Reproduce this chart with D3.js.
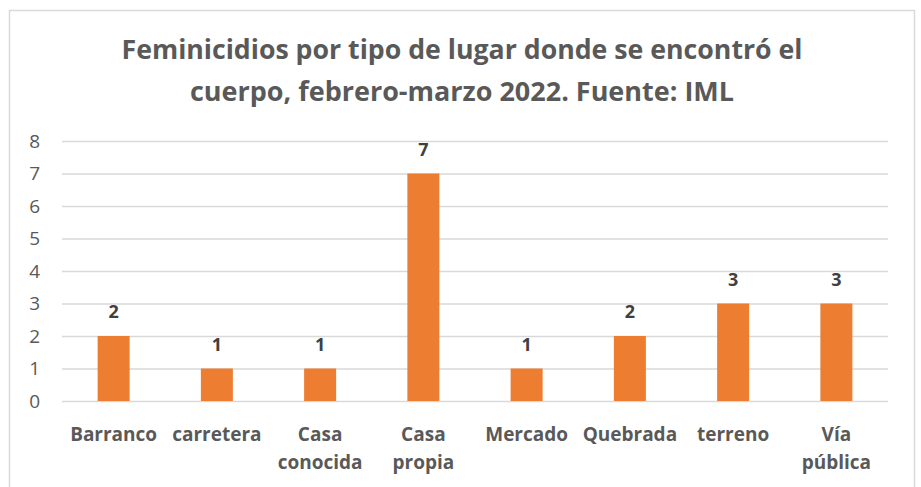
<!DOCTYPE html>
<html>
<head>
<meta charset="utf-8">
<script src="https://cdn.jsdelivr.net/npm/d3@7"></script>
<style>
  body { margin: 0; background: #fff; }
  svg text { font-family: "Open Sans", "Liberation Sans", sans-serif; }
  .plot-title { font-size: 26px; font-weight: 700; fill: #595959; }
  .y-axis text { font-size: 19px; fill: #595959; }
  .x-label { font-size: 19px; font-weight: 700; fill: #595959; }
  .bar-label { font-size: 18px; font-weight: 700; fill: #404040; }
</style>
</head>
<body>
<div id="chart"></div>
<script>
// data
const categories = ["Barranco", "carretera", "Casa conocida", "Casa propia", "Mercado", "Quebrada", "terreno", "Vía pública"];
const values = [2, 1, 1, 7, 1, 2, 3, 3];
const yTicks = [0, 1, 2, 3, 4, 5, 6, 7, 8];
const titleLines = ["Feminicidios por tipo de lugar donde se encontró el", "cuerpo, febrero-marzo 2022. Fuente: IML"];

// category labels are wrapped like the original
const wrapped = {
  "Casa conocida": ["Casa", "conocida"],
  "Casa propia": ["Casa", "propia"],
  "Vía pública": ["Vía", "pública"]
};

const data = categories.map((c, i) => ({name: c, value: values[i]}));

const W = 921, H = 487;
const margin = {top: 141, right: 33, bottom: 86, left: 62},
    width = W - margin.left - margin.right,
    height = H - margin.top - margin.bottom;

const svg = d3.select("#chart")
  .append("svg")
    .attr("width", W)
    .attr("height", H);

// outer chart border
svg.append("rect")
  .attr("x", 9.5)
  .attr("y", 10.5)
  .attr("width", 905)
  .attr("height", 490)
  .attr("fill", "none")
  .attr("stroke", "#d9d9d9")
  .attr("stroke-width", 1.5);

// title
svg.append("text")
  .attr("class", "plot-title")
  .attr("text-anchor", "middle")
  .selectAll("tspan")
  .data(titleLines)
  .join("tspan")
    .attr("x", 462)
    .attr("y", (d, i) => 59 + i * 42)
    .attr("textLength", (d, i) => i == 0 ? 681 : 544)
    .attr("lengthAdjust", "spacingAndGlyphs")
    .text(d => d);

const g = svg.append("g")
  .attr("transform", `translate(${margin.left}, ${margin.top})`);

const x = d3.scaleBand()
  .domain(categories)
  .range([0, width])
  .paddingInner(0.69)
  .paddingOuter(0.345);

const y = d3.scaleLinear()
  .domain([0, 8])
  .range([height, 0]);

// grid + y labels
g.append("g")
  .attr("class", "y-axis")
  .call(d3.axisLeft(y)
    .tickValues(yTicks)
    .tickSizeInner(-width)
    .tickSizeOuter(0)
    .tickPadding(22))
  .call(a => a.select(".domain").remove())
  .call(a => a.selectAll("line").attr("stroke", "#d9d9d9").attr("stroke-width", 1.5));

// bars
g.selectAll(".bar")
  .data(data)
  .join("rect")
    .attr("class", "bar")
    .attr("x", d => x(d.name))
    .attr("y", d => y(d.value))
    .attr("width", x.bandwidth())
    .attr("height", d => y(0) - y(d.value))
    .attr("fill", "#ed7d31");

// value labels
g.selectAll(".bar-label")
  .data(data)
  .join("text")
    .attr("class", "bar-label")
    .attr("text-anchor", "middle")
    .attr("x", d => x(d.name) + x.bandwidth() / 2)
    .attr("y", d => y(d.value) - 18)
    .text(d => d.value);

// category labels
const xl = g.selectAll(".x-label")
  .data(data)
  .join("text")
    .attr("class", "x-label")
    .attr("text-anchor", "middle");
xl.selectAll("tspan")
  .data(d => (wrapped[d.name] || [d.name]).map(t => ({t, cx: x(d.name) + x.bandwidth() / 2})))
  .join("tspan")
    .attr("x", d => d.cx)
    .attr("y", (d, i) => height + 40 + i * 28)
    .text(d => d.t);
</script>
</body>
</html>
